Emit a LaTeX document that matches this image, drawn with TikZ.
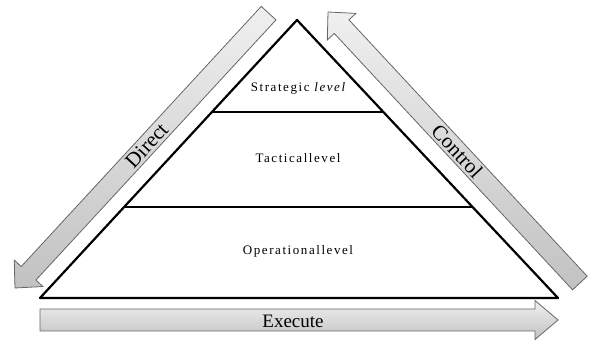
\documentclass[tikz,border=0pt]{standalone}
\usepackage{fontspec}
\setmainfont{Liberation Serif}
\newfontfamily\spacedserif[LetterSpace=12]{Liberation Serif}
\usetikzlibrary{calc}

\tikzset{
  levelline/.style={line width=2.2pt, line join=round},
  blockarrow/.style={draw=black!60, line width=0.8pt, top color=black!6, bottom color=black!24},
  leveltext/.style={font=\spacedserif\fontsize{13}{15}\selectfont},
  arrowtext/.style={font=\fontsize{21}{23}\selectfont, inner sep=0pt}
}

\begin{document}
\begin{tikzpicture}[x=1pt,y=1pt]
\useasboundingbox (0,0) rectangle (592,345);

% pyramid
\coordinate (apex) at (297,325);
\coordinate (baseleft) at (40,47);
\coordinate (baseright) at (558,47);
\draw[levelline] (baseleft) -- (apex) -- (baseright) -- cycle;
\draw[levelline] ($(baseleft)!0.669!(apex)$) -- ($(baseright)!0.669!(apex)$);
\draw[levelline] ($(baseleft)!0.327!(apex)$) -- ($(baseright)!0.327!(apex)$);

\node[leveltext] (strategic) at (298,257) {Strategic {\itshape level}};
\node[leveltext] (tactical) at (298,187) {Tacticallevel};
\node[leveltext] (operational) at (298,94) {Operationallevel};

% direct arrow, tip at the origin of the scope
\begin{scope}[shift={(15,57)}, rotate=47.3]
\draw[blockarrow] (0,0) -- (20,19.5) -- (20,10) -- (374,10) -- (374,-10) -- (20,-10) -- (20,-19.5) -- cycle;
\node[arrowtext, rotate=47.3] (direct) at (194,0) {Direct};
\end{scope}

% control arrow
\begin{scope}[shift={(328,333)}, rotate=-47.1]
\draw[blockarrow] (0,0) -- (20,19.5) -- (20,10) -- (370,10) -- (370,-10) -- (20,-10) -- (20,-19.5) -- cycle;
\node[arrowtext, rotate=-47.1] (control) at (190,0) {Control};
\end{scope}

% execute arrow
\draw[blockarrow] (40,14) -- (535,14) -- (535,5.5) -- (558,25) -- (535,44.5) -- (535,36) -- (40,36) -- cycle;
\node[arrowtext, font=\fontsize{19}{21}\selectfont] (execute) at (293,24) {Execute};

\end{tikzpicture}
\end{document}
